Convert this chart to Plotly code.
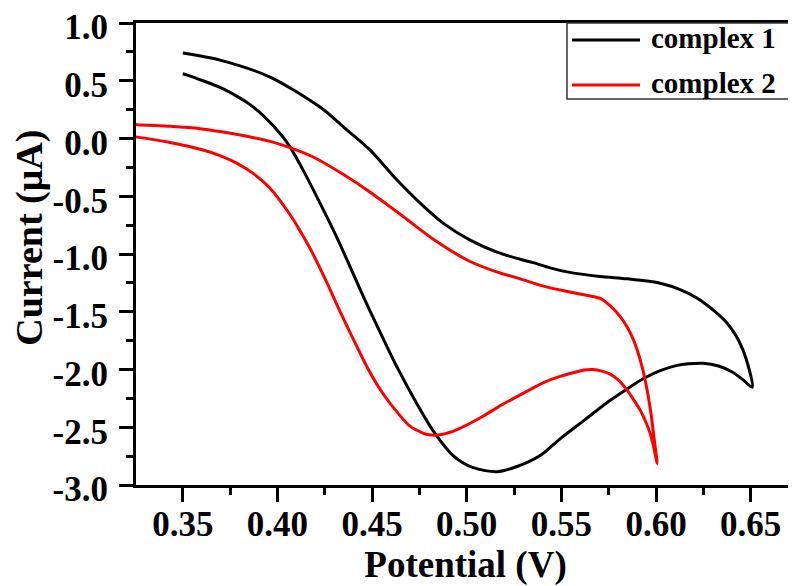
import plotly.graph_objects as go

# ---- data ----
c1_potential = [0.350, 0.3697, 0.3961, 0.4225, 0.4368, 0.4490, 0.4632, 0.4754, 0.4875, 0.5018,
                0.5160, 0.5282, 0.5351, 0.5440, 0.5530, 0.5705, 0.5850, 0.6022, 0.6130, 0.6234,
                0.6376, 0.6460, 0.6508,
                0.6460, 0.6400, 0.6330, 0.6249, 0.6170, 0.6111, 0.6022, 0.5932, 0.5845, 0.5758,
                0.5620, 0.5493, 0.5388, 0.5266, 0.5160, 0.5034, 0.4928, 0.4822, 0.4738, 0.4632,
                0.4526, 0.4474, 0.4400, 0.4315, 0.4225, 0.4136, 0.4067, 0.4030, 0.3924, 0.3850,
                0.3787, 0.3700, 0.3607, 0.3523, 0.350]
c1_current = [0.740, 0.679, 0.532, 0.272, 0.073, -0.101, -0.360, -0.560, -0.733, -0.880,
              -0.984, -1.045, -1.075, -1.120, -1.155, -1.195, -1.215, -1.253, -1.310, -1.400,
              -1.600, -1.834, -2.154,
              -2.090, -2.020, -1.970, -1.946, -1.950, -1.964, -2.010, -2.080, -2.170, -2.267,
              -2.440, -2.600, -2.745, -2.840, -2.885, -2.850, -2.745, -2.530, -2.300, -1.980,
              -1.620, -1.440, -1.170, -0.860, -0.560, -0.274, -0.075, 0.012, 0.200, 0.300,
              0.365, 0.440, 0.500, 0.549, 0.560]

c2_potential = [0.320, 0.3259, 0.3433, 0.3591, 0.3697, 0.3850, 0.3961, 0.4051, 0.4189, 0.4347,
                0.4490, 0.4664, 0.4843, 0.5018, 0.5150, 0.5282, 0.5420, 0.5530, 0.5640, 0.5705,
                0.5758, 0.5810, 0.5848, 0.5880, 0.5901, 0.5930, 0.5953, 0.5975, 0.5990, 0.6006,
                0.5985, 0.5969, 0.5945, 0.5917, 0.5885, 0.5848, 0.5800, 0.5758, 0.5710, 0.5668,
                0.5620, 0.5583, 0.5493, 0.5403, 0.5266, 0.5170, 0.5086, 0.4949, 0.4859, 0.4800,
                0.4769, 0.4700, 0.4648, 0.4558, 0.4474, 0.4384, 0.4320, 0.4262, 0.4172, 0.4120,
                0.4067, 0.3961, 0.3870, 0.3787, 0.3700, 0.3607, 0.3433, 0.3259, 0.320]
c2_current = [0.130, 0.120, 0.105, 0.085, 0.060, 0.015, -0.025, -0.070, -0.160, -0.310,
              -0.465, -0.675, -0.895, -1.065, -1.150, -1.215, -1.285, -1.325, -1.360, -1.385,
              -1.450, -1.540, -1.634, -1.740, -1.834, -2.000, -2.180, -2.400, -2.600, -2.813,
              -2.650, -2.553, -2.450, -2.354, -2.270, -2.180, -2.090, -2.040, -2.012, -2.000,
              -2.005, -2.020, -2.060, -2.115, -2.235, -2.320, -2.405, -2.520, -2.565, -2.565,
              -2.550, -2.490, -2.400, -2.210, -1.980, -1.680, -1.460, -1.250, -0.950, -0.800,
              -0.660, -0.430, -0.300, -0.215, -0.150, -0.100, -0.035, 0.012, 0.025]

series_names = ["complex 1", "complex 2"]
series_colors = ["#000000", "#ff0000"]

x_tickvals = [0.35, 0.40, 0.45, 0.50, 0.55, 0.60, 0.65]
x_ticktext = ["0.35", "0.40", "0.45", "0.50", "0.55", "0.60", "0.65"]
y_tickvals = [1.0, 0.5, 0.0, -0.5, -1.0, -1.5, -2.0, -2.5, -3.0]
y_ticktext = ["1.0", "0.5", "0.0", "-0.5", "-1.0", "-1.5", "-2.0", "-2.5", "-3.0"]

FONT = "Liberation Serif, Times New Roman, serif"

fig = go.Figure()
for xs, ys, name, col in [(c1_potential, c1_current, series_names[0], series_colors[0]),
                          (c2_potential, c2_current, series_names[1], series_colors[1])]:
    fig.add_trace(go.Scatter(x=xs, y=ys, mode="lines", name=name,
                             line=dict(color=col, width=3, shape="spline", smoothing=0.8),
                             showlegend=False))

axis_common = dict(showline=True, linewidth=3, linecolor="black", mirror=True,
                   ticks="outside", tickwidth=3, tickcolor="black", ticklen=14,
                   showgrid=False, zeroline=False, automargin=False,
                   ticklabeloverflow="allow",
                   tickfont=dict(family=FONT, size=35, color="black", weight="bold"))

fig.update_xaxes(range=[0.3253, 0.6734], tickvals=x_tickvals, ticktext=x_ticktext,
                 ticklabelstandoff=-8,
                 minor=dict(ticks="outside", ticklen=7, tickwidth=3, tickcolor="black", dtick=0.025, tick0=0.325),
                 title=dict(text="Potential (V)", standoff=0,
                            font=dict(family=FONT, size=37, color="black", weight="bold")),
                 **axis_common)
fig.update_yaxes(range=[-3.0, 1.0], tickvals=y_tickvals, ticktext=y_ticktext,
                 ticklabelstandoff=4, ticklabelshift=4,
                 minor=dict(ticks="outside", ticklen=7, tickwidth=3, tickcolor="black", dtick=0.25, tick0=0),
                 **axis_common)

# y-axis title placed as rotated text (matches the reference's slightly raised position)
fig.add_annotation(xref="paper", yref="paper", x=-0.161, y=0.535, textangle=-90,
                   xanchor="center", yanchor="middle", showarrow=False,
                   text="Current (μA)",
                   font=dict(family=FONT, size=38, color="black", weight="bold"))

# manual legend
fig.add_shape(type="rect", xref="paper", yref="paper", x0=0.654, x1=1.0, y0=0.8355, y1=1.0,
              line=dict(color="#333333", width=1.5), fillcolor="white", layer="above")
for i, (name, col) in enumerate(zip(series_names, series_colors)):
    yy = [0.9632, 0.8658][i]
    fig.add_shape(type="line", xref="paper", yref="paper", x0=0.6616, x1=0.7648, y0=yy, y1=yy,
                  line=dict(color=col, width=3), layer="above")
    fig.add_annotation(xref="paper", yref="paper", x=0.778, y=yy + 0.004, xanchor="left", yanchor="middle",
                       text=name, showarrow=False,
                       font=dict(family=FONT, size=29, color="black", weight="bold"))

# page body has an 8px default margin, so the figure is sized to fit the 796x586 window
fig.update_layout(width=788, height=578, margin=dict(l=128, r=1, t=15, b=101),
                  plot_bgcolor="white", paper_bgcolor="white")

fig.write_html("out.html")
